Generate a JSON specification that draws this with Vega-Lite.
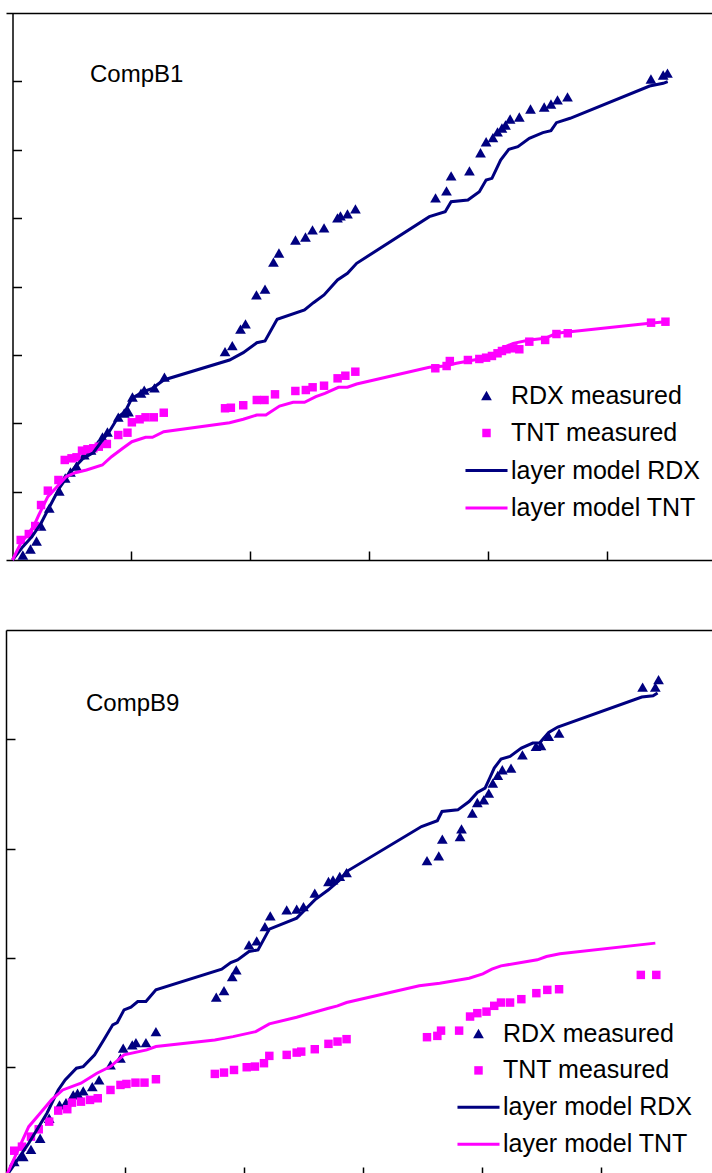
{
  "$schema": "https://vega.github.io/schema/vega-lite/v6.json",
  "padding": {"left": 4, "top": 13, "right": 0, "bottom": 0},
  "autosize": {"type": "pad"},
  "background": "white",
  "spacing": 70,
  "bounds": "flush",
  "config": {
    "view": {"stroke": null},
    "axis": {"labels": false, "title": null, "grid": false, "domainColor": "black", "domainWidth": 1.5, "tickColor": "black", "tickWidth": 1.5, "tickSize": -9},
    "legend": {"title": null, "orient": "none", "labelFont": "Liberation Sans", "labelFontSize": 25, "labelColor": "black", "labelLimit": 400, "labelOffset": 12, "symbolSize": 115, "symbolStrokeWidth": 3, "symbolOpacity": 1, "padding": 0}
  },
  "datasets": {
    "b1_rdx": [
      {"x":0.087,"y":0.073,"series":"RDX measured"},{"x":0.151,"y":0.161,"series":"RDX measured"},{"x":0.202,"y":0.278,"series":"RDX measured"},{"x":0.240,"y":0.497,"series":"RDX measured"},{"x":0.309,"y":0.76,"series":"RDX measured"},{"x":0.393,"y":1.009,"series":"RDX measured"},{"x":0.443,"y":1.199,"series":"RDX measured"},{"x":0.487,"y":1.287,"series":"RDX measured"},{"x":0.538,"y":1.375,"series":"RDX measured"},{"x":0.603,"y":1.536,"series":"RDX measured"},{"x":0.660,"y":1.609,"series":"RDX measured"},{"x":0.714,"y":1.682,"series":"RDX measured"},{"x":0.756,"y":1.799,"series":"RDX measured"},{"x":0.798,"y":1.872,"series":"RDX measured"},{"x":0.889,"y":2.091,"series":"RDX measured"},{"x":0.939,"y":2.150,"series":"RDX measured"},{"x":0.975,"y":2.165,"series":"RDX measured"},{"x":1.008,"y":2.384,"series":"RDX measured"},{"x":1.080,"y":2.442,"series":"RDX measured"},{"x":1.107,"y":2.486,"series":"RDX measured"},{"x":1.193,"y":2.516,"series":"RDX measured"},{"x":1.277,"y":2.676,"series":"RDX measured"},{"x":1.786,"y":3.046,"series":"RDX measured"},{"x":1.847,"y":3.134,"series":"RDX measured"},{"x":1.916,"y":3.378,"series":"RDX measured"},{"x":1.958,"y":3.452,"series":"RDX measured"},{"x":2.050,"y":3.876,"series":"RDX measured"},{"x":2.122,"y":3.963,"series":"RDX measured"},{"x":2.193,"y":4.358,"series":"RDX measured"},{"x":2.239,"y":4.490,"series":"RDX measured"},{"x":2.378,"y":4.680,"series":"RDX measured"},{"x":2.462,"y":4.724,"series":"RDX measured"},{"x":2.521,"y":4.827,"series":"RDX measured"},{"x":2.618,"y":4.856,"series":"RDX measured"},{"x":2.731,"y":5.003,"series":"RDX measured"},{"x":2.756,"y":5.032,"series":"RDX measured"},{"x":2.815,"y":5.061,"series":"RDX measured"},{"x":2.882,"y":5.134,"series":"RDX measured"},{"x":3.555,"y":5.297,"series":"RDX measured"},{"x":3.647,"y":5.399,"series":"RDX measured"},{"x":3.686,"y":5.619,"series":"RDX measured"},{"x":3.840,"y":5.692,"series":"RDX measured"},{"x":3.933,"y":5.956,"series":"RDX measured"},{"x":3.980,"y":6.117,"series":"RDX measured"},{"x":4.037,"y":6.176,"series":"RDX measured"},{"x":4.076,"y":6.260,"series":"RDX measured"},{"x":4.113,"y":6.318,"series":"RDX measured"},{"x":4.143,"y":6.362,"series":"RDX measured"},{"x":4.182,"y":6.450,"series":"RDX measured"},{"x":4.259,"y":6.479,"series":"RDX measured"},{"x":4.353,"y":6.596,"series":"RDX measured"},{"x":4.468,"y":6.625,"series":"RDX measured"},{"x":4.525,"y":6.669,"series":"RDX measured"},{"x":4.580,"y":6.728,"series":"RDX measured"},{"x":4.664,"y":6.772,"series":"RDX measured"},{"x":5.365,"y":7.035,"series":"RDX measured"},{"x":5.468,"y":7.093,"series":"RDX measured"},{"x":5.504,"y":7.122,"series":"RDX measured"}
    ],
    "b1_tnt": [
      {"x":0.069,"y":0.293,"series":"TNT measured"},{"x":0.137,"y":0.380,"series":"TNT measured"},{"x":0.191,"y":0.497,"series":"TNT measured"},{"x":0.240,"y":0.804,"series":"TNT measured"},{"x":0.297,"y":1.014,"series":"TNT measured"},{"x":0.386,"y":1.170,"series":"TNT measured"},{"x":0.439,"y":1.463,"series":"TNT measured"},{"x":0.496,"y":1.487,"series":"TNT measured"},{"x":0.538,"y":1.502,"series":"TNT measured"},{"x":0.584,"y":1.599,"series":"TNT measured"},{"x":0.630,"y":1.619,"series":"TNT measured"},{"x":0.679,"y":1.634,"series":"TNT measured"},{"x":0.725,"y":1.657,"series":"TNT measured"},{"x":0.793,"y":1.697,"series":"TNT measured"},{"x":0.889,"y":1.828,"series":"TNT measured"},{"x":0.966,"y":1.862,"series":"TNT measured"},{"x":1.003,"y":2.014,"series":"TNT measured"},{"x":1.068,"y":2.058,"series":"TNT measured"},{"x":1.118,"y":2.087,"series":"TNT measured"},{"x":1.187,"y":2.087,"series":"TNT measured"},{"x":1.271,"y":2.154,"series":"TNT measured"},{"x":1.786,"y":2.219,"series":"TNT measured"},{"x":1.835,"y":2.227,"series":"TNT measured"},{"x":1.939,"y":2.263,"series":"TNT measured"},{"x":2.053,"y":2.340,"series":"TNT measured"},{"x":2.118,"y":2.340,"series":"TNT measured"},{"x":2.206,"y":2.423,"series":"TNT measured"},{"x":2.377,"y":2.472,"series":"TNT measured"},{"x":2.465,"y":2.486,"series":"TNT measured"},{"x":2.522,"y":2.526,"series":"TNT measured"},{"x":2.618,"y":2.549,"series":"TNT measured"},{"x":2.732,"y":2.657,"series":"TNT measured"},{"x":2.797,"y":2.695,"series":"TNT measured"},{"x":2.881,"y":2.754,"series":"TNT measured"},{"x":3.553,"y":2.804,"series":"TNT measured"},{"x":3.648,"y":2.837,"series":"TNT measured"},{"x":3.675,"y":2.910,"series":"TNT measured"},{"x":3.827,"y":2.925,"series":"TNT measured"},{"x":3.923,"y":2.940,"series":"TNT measured"},{"x":3.980,"y":2.959,"series":"TNT measured"},{"x":4.029,"y":2.984,"series":"TNT measured"},{"x":4.076,"y":3.023,"series":"TNT measured"},{"x":4.113,"y":3.057,"series":"TNT measured"},{"x":4.151,"y":3.082,"series":"TNT measured"},{"x":4.208,"y":3.096,"series":"TNT measured"},{"x":4.259,"y":3.082,"series":"TNT measured"},{"x":4.343,"y":3.193,"series":"TNT measured"},{"x":4.476,"y":3.218,"series":"TNT measured"},{"x":4.571,"y":3.305,"series":"TNT measured"},{"x":4.666,"y":3.316,"series":"TNT measured"},{"x":5.366,"y":3.471,"series":"TNT measured"},{"x":5.487,"y":3.485,"series":"TNT measured"}
    ],
    "b1_model": [
      {"x":0,"y":0,"series":"layer model RDX"},{"x":0.087,"y":0.195,"series":"layer model RDX"},{"x":0.164,"y":0.341,"series":"layer model RDX"},{"x":0.240,"y":0.537,"series":"layer model RDX"},{"x":0.297,"y":0.731,"series":"layer model RDX"},{"x":0.393,"y":1.049,"series":"layer model RDX"},{"x":0.450,"y":1.195,"series":"layer model RDX"},{"x":0.527,"y":1.365,"series":"layer model RDX"},{"x":0.595,"y":1.487,"series":"layer model RDX"},{"x":0.679,"y":1.569,"series":"layer model RDX"},{"x":0.736,"y":1.707,"series":"layer model RDX"},{"x":0.813,"y":1.876,"series":"layer model RDX"},{"x":0.889,"y":2.096,"series":"layer model RDX"},{"x":0.946,"y":2.169,"series":"layer model RDX"},{"x":1.003,"y":2.365,"series":"layer model RDX"},{"x":1.099,"y":2.461,"series":"layer model RDX"},{"x":1.176,"y":2.511,"series":"layer model RDX"},{"x":1.271,"y":2.633,"series":"layer model RDX"},{"x":1.824,"y":2.925,"series":"layer model RDX"},{"x":1.939,"y":3.032,"series":"layer model RDX"},{"x":2.053,"y":3.178,"series":"layer model RDX"},{"x":2.122,"y":3.203,"series":"layer model RDX"},{"x":2.224,"y":3.520,"series":"layer model RDX"},{"x":2.454,"y":3.656,"series":"layer model RDX"},{"x":2.529,"y":3.763,"series":"layer model RDX"},{"x":2.618,"y":3.876,"series":"layer model RDX"},{"x":2.731,"y":4.095,"series":"layer model RDX"},{"x":2.815,"y":4.193,"series":"layer model RDX"},{"x":2.892,"y":4.339,"series":"layer model RDX"},{"x":3.503,"y":5.021,"series":"layer model RDX"},{"x":3.636,"y":5.094,"series":"layer model RDX"},{"x":3.686,"y":5.240,"series":"layer model RDX"},{"x":3.827,"y":5.265,"series":"layer model RDX"},{"x":3.923,"y":5.386,"series":"layer model RDX"},{"x":3.980,"y":5.558,"series":"layer model RDX"},{"x":4.029,"y":5.582,"series":"layer model RDX"},{"x":4.102,"y":5.850,"series":"layer model RDX"},{"x":4.171,"y":6.007,"series":"layer model RDX"},{"x":4.247,"y":6.045,"series":"layer model RDX"},{"x":4.343,"y":6.168,"series":"layer model RDX"},{"x":4.457,"y":6.250,"series":"layer model RDX"},{"x":4.525,"y":6.279,"series":"layer model RDX"},{"x":4.571,"y":6.396,"series":"layer model RDX"},{"x":4.686,"y":6.460,"series":"layer model RDX"},{"x":5.354,"y":6.932,"series":"layer model RDX"},{"x":5.468,"y":6.972,"series":"layer model RDX"},{"x":5.506,"y":6.996,"series":"layer model RDX"},
      {"x":0,"y":0,"series":"layer model TNT"},{"x":0.069,"y":0.244,"series":"layer model TNT"},{"x":0.126,"y":0.366,"series":"layer model TNT"},{"x":0.183,"y":0.512,"series":"layer model TNT"},{"x":0.221,"y":0.658,"series":"layer model TNT"},{"x":0.297,"y":0.926,"series":"layer model TNT"},{"x":0.374,"y":1.072,"series":"layer model TNT"},{"x":0.450,"y":1.218,"series":"layer model TNT"},{"x":0.527,"y":1.277,"series":"layer model TNT"},{"x":0.622,"y":1.316,"series":"layer model TNT"},{"x":0.755,"y":1.389,"series":"layer model TNT"},{"x":0.832,"y":1.511,"series":"layer model TNT"},{"x":0.927,"y":1.634,"series":"layer model TNT"},{"x":1.003,"y":1.730,"series":"layer model TNT"},{"x":1.118,"y":1.795,"series":"layer model TNT"},{"x":1.176,"y":1.795,"series":"layer model TNT"},{"x":1.271,"y":1.876,"series":"layer model TNT"},{"x":1.824,"y":2.008,"series":"layer model TNT"},{"x":1.939,"y":2.058,"series":"layer model TNT"},{"x":2.053,"y":2.121,"series":"layer model TNT"},{"x":2.129,"y":2.121,"series":"layer model TNT"},{"x":2.244,"y":2.252,"series":"layer model TNT"},{"x":2.358,"y":2.306,"series":"layer model TNT"},{"x":2.454,"y":2.306,"series":"layer model TNT"},{"x":2.549,"y":2.388,"series":"layer model TNT"},{"x":2.625,"y":2.438,"series":"layer model TNT"},{"x":2.739,"y":2.526,"series":"layer model TNT"},{"x":2.815,"y":2.526,"series":"layer model TNT"},{"x":2.892,"y":2.574,"series":"layer model TNT"},{"x":3.503,"y":2.818,"series":"layer model TNT"},{"x":3.636,"y":2.837,"series":"layer model TNT"},{"x":3.731,"y":2.877,"series":"layer model TNT"},{"x":3.923,"y":2.940,"series":"layer model TNT"},{"x":4.018,"y":2.965,"series":"layer model TNT"},{"x":4.113,"y":3.096,"series":"layer model TNT"},{"x":4.208,"y":3.169,"series":"layer model TNT"},{"x":4.343,"y":3.218,"series":"layer model TNT"},{"x":4.476,"y":3.242,"series":"layer model TNT"},{"x":4.571,"y":3.316,"series":"layer model TNT"},{"x":4.686,"y":3.339,"series":"layer model TNT"},{"x":5.354,"y":3.462,"series":"layer model TNT"},{"x":5.487,"y":3.485,"series":"layer model TNT"}
    ],
    "b9_rdx": [
      {"x":0.069,"y":0.134,"series":"RDX measured"},{"x":0.145,"y":0.179,"series":"RDX measured"},{"x":0.210,"y":0.247,"series":"RDX measured"},{"x":0.287,"y":0.348,"series":"RDX measured"},{"x":0.363,"y":0.531,"series":"RDX measured"},{"x":0.450,"y":0.653,"series":"RDX measured"},{"x":0.504,"y":0.674,"series":"RDX measured"},{"x":0.565,"y":0.745,"series":"RDX measured"},{"x":0.601,"y":0.760,"series":"RDX measured"},{"x":0.649,"y":0.781,"series":"RDX measured"},{"x":0.725,"y":0.821,"series":"RDX measured"},{"x":0.782,"y":0.882,"series":"RDX measured"},{"x":0.878,"y":1.019,"series":"RDX measured"},{"x":0.962,"y":1.081,"series":"RDX measured"},{"x":0.985,"y":1.172,"series":"RDX measured"},{"x":1.061,"y":1.202,"series":"RDX measured"},{"x":1.092,"y":1.223,"series":"RDX measured"},{"x":1.176,"y":1.223,"series":"RDX measured"},{"x":1.260,"y":1.324,"series":"RDX measured"},{"x":1.767,"y":1.639,"series":"RDX measured"},{"x":1.832,"y":1.700,"series":"RDX measured"},{"x":1.901,"y":1.828,"series":"RDX measured"},{"x":1.935,"y":1.889,"series":"RDX measured"},{"x":2.042,"y":2.118,"series":"RDX measured"},{"x":2.107,"y":2.155,"series":"RDX measured"},{"x":2.176,"y":2.286,"series":"RDX measured"},{"x":2.221,"y":2.384,"series":"RDX measured"},{"x":2.359,"y":2.439,"series":"RDX measured"},{"x":2.443,"y":2.445,"series":"RDX measured"},{"x":2.500,"y":2.469,"series":"RDX measured"},{"x":2.595,"y":2.592,"series":"RDX measured"},{"x":2.710,"y":2.698,"series":"RDX measured"},{"x":2.748,"y":2.713,"series":"RDX measured"},{"x":2.805,"y":2.744,"series":"RDX measured"},{"x":2.862,"y":2.780,"series":"RDX measured"},{"x":3.538,"y":2.890,"series":"RDX measured"},{"x":3.637,"y":2.933,"series":"RDX measured"},{"x":3.667,"y":3.086,"series":"RDX measured"},{"x":3.816,"y":3.110,"series":"RDX measured"},{"x":3.828,"y":3.180,"series":"RDX measured"},{"x":3.919,"y":3.324,"series":"RDX measured"},{"x":3.961,"y":3.421,"series":"RDX measured"},{"x":4.015,"y":3.446,"series":"RDX measured"},{"x":4.057,"y":3.507,"series":"RDX measured"},{"x":4.091,"y":3.599,"series":"RDX measured"},{"x":4.133,"y":3.669,"series":"RDX measured"},{"x":4.171,"y":3.721,"series":"RDX measured"},{"x":4.244,"y":3.736,"series":"RDX measured"},{"x":4.340,"y":3.858,"series":"RDX measured"},{"x":4.454,"y":3.934,"series":"RDX measured"},{"x":4.496,"y":3.943,"series":"RDX measured"},{"x":4.561,"y":4.026,"series":"RDX measured"},{"x":4.648,"y":4.057,"series":"RDX measured"},{"x":5.350,"y":4.478,"series":"RDX measured"},{"x":5.457,"y":4.478,"series":"RDX measured"},{"x":5.484,"y":4.545,"series":"RDX measured"}
    ],
    "b9_tnt": [
      {"x":0.069,"y":0.234,"series":"TNT measured"},{"x":0.134,"y":0.271,"series":"TNT measured"},{"x":0.210,"y":0.363,"series":"TNT measured"},{"x":0.275,"y":0.430,"series":"TNT measured"},{"x":0.363,"y":0.500,"series":"TNT measured"},{"x":0.439,"y":0.601,"series":"TNT measured"},{"x":0.515,"y":0.614,"series":"TNT measured"},{"x":0.554,"y":0.674,"series":"TNT measured"},{"x":0.630,"y":0.683,"series":"TNT measured"},{"x":0.706,"y":0.699,"series":"TNT measured"},{"x":0.771,"y":0.714,"series":"TNT measured"},{"x":0.878,"y":0.790,"series":"TNT measured"},{"x":0.962,"y":0.836,"series":"TNT measured"},{"x":1.012,"y":0.845,"series":"TNT measured"},{"x":1.088,"y":0.857,"series":"TNT measured"},{"x":1.164,"y":0.857,"series":"TNT measured"},{"x":1.260,"y":0.888,"series":"TNT measured"},{"x":1.755,"y":0.937,"series":"TNT measured"},{"x":1.832,"y":0.949,"series":"TNT measured"},{"x":1.916,"y":0.973,"series":"TNT measured"},{"x":2.023,"y":0.998,"series":"TNT measured"},{"x":2.092,"y":1.004,"series":"TNT measured"},{"x":2.168,"y":1.035,"series":"TNT measured"},{"x":2.213,"y":1.102,"series":"TNT measured"},{"x":2.359,"y":1.111,"series":"TNT measured"},{"x":2.443,"y":1.132,"series":"TNT measured"},{"x":2.481,"y":1.141,"series":"TNT measured"},{"x":2.595,"y":1.163,"series":"TNT measured"},{"x":2.710,"y":1.212,"series":"TNT measured"},{"x":2.786,"y":1.233,"series":"TNT measured"},{"x":2.862,"y":1.255,"series":"TNT measured"},{"x":3.538,"y":1.273,"series":"TNT measured"},{"x":3.625,"y":1.285,"series":"TNT measured"},{"x":3.656,"y":1.333,"series":"TNT measured"},{"x":3.808,"y":1.333,"series":"TNT measured"},{"x":3.900,"y":1.462,"series":"TNT measured"},{"x":3.961,"y":1.493,"series":"TNT measured"},{"x":4.038,"y":1.507,"series":"TNT measured"},{"x":4.103,"y":1.560,"series":"TNT measured"},{"x":4.160,"y":1.590,"series":"TNT measured"},{"x":4.236,"y":1.590,"series":"TNT measured"},{"x":4.331,"y":1.621,"series":"TNT measured"},{"x":4.457,"y":1.676,"series":"TNT measured"},{"x":4.549,"y":1.706,"series":"TNT measured"},{"x":4.648,"y":1.712,"series":"TNT measured"},{"x":5.335,"y":1.843,"series":"TNT measured"},{"x":5.465,"y":1.843,"series":"TNT measured"}
    ],
    "b9_model": [
      {"x":0,"y":0,"series":"layer model RDX"},{"x":0.039,"y":0.058,"series":"layer model RDX"},{"x":0.191,"y":0.302,"series":"layer model RDX"},{"x":0.344,"y":0.577,"series":"layer model RDX"},{"x":0.439,"y":0.790,"series":"layer model RDX"},{"x":0.497,"y":0.882,"series":"layer model RDX"},{"x":0.592,"y":0.989,"series":"layer model RDX"},{"x":0.649,"y":1.004,"series":"layer model RDX"},{"x":0.745,"y":1.111,"series":"layer model RDX"},{"x":0.821,"y":1.248,"series":"layer model RDX"},{"x":0.897,"y":1.386,"series":"layer model RDX"},{"x":0.935,"y":1.407,"series":"layer model RDX"},{"x":0.992,"y":1.523,"series":"layer model RDX"},{"x":1.050,"y":1.548,"series":"layer model RDX"},{"x":1.107,"y":1.599,"series":"layer model RDX"},{"x":1.176,"y":1.599,"series":"layer model RDX"},{"x":1.260,"y":1.706,"series":"layer model RDX"},{"x":1.813,"y":1.896,"series":"layer model RDX"},{"x":1.889,"y":1.956,"series":"layer model RDX"},{"x":1.946,"y":1.981,"series":"layer model RDX"},{"x":2.042,"y":2.057,"series":"layer model RDX"},{"x":2.118,"y":2.072,"series":"layer model RDX"},{"x":2.213,"y":2.262,"series":"layer model RDX"},{"x":2.443,"y":2.363,"series":"layer model RDX"},{"x":2.595,"y":2.530,"series":"layer model RDX"},{"x":2.710,"y":2.622,"series":"layer model RDX"},{"x":2.805,"y":2.713,"series":"layer model RDX"},{"x":2.862,"y":2.789,"series":"layer model RDX"},{"x":3.492,"y":3.201,"series":"layer model RDX"},{"x":3.625,"y":3.254,"series":"layer model RDX"},{"x":3.664,"y":3.339,"series":"layer model RDX"},{"x":3.797,"y":3.354,"series":"layer model RDX"},{"x":3.892,"y":3.430,"series":"layer model RDX"},{"x":3.961,"y":3.513,"series":"layer model RDX"},{"x":4.026,"y":3.553,"series":"layer model RDX"},{"x":4.065,"y":3.645,"series":"layer model RDX"},{"x":4.103,"y":3.736,"series":"layer model RDX"},{"x":4.160,"y":3.819,"series":"layer model RDX"},{"x":4.236,"y":3.843,"series":"layer model RDX"},{"x":4.331,"y":3.919,"series":"layer model RDX"},{"x":4.427,"y":3.965,"series":"layer model RDX"},{"x":4.484,"y":3.965,"series":"layer model RDX"},{"x":4.561,"y":4.062,"series":"layer model RDX"},{"x":4.637,"y":4.112,"series":"layer model RDX"},{"x":5.343,"y":4.386,"series":"layer model RDX"},{"x":5.438,"y":4.398,"series":"layer model RDX"},{"x":5.476,"y":4.423,"series":"layer model RDX"},
      {"x":0,"y":0,"series":"layer model TNT"},{"x":0.076,"y":0.179,"series":"layer model TNT"},{"x":0.191,"y":0.454,"series":"layer model TNT"},{"x":0.287,"y":0.577,"series":"layer model TNT"},{"x":0.382,"y":0.699,"series":"layer model TNT"},{"x":0.477,"y":0.790,"series":"layer model TNT"},{"x":0.630,"y":0.852,"series":"layer model TNT"},{"x":0.764,"y":0.943,"series":"layer model TNT"},{"x":0.878,"y":1.004,"series":"layer model TNT"},{"x":0.992,"y":1.111,"series":"layer model TNT"},{"x":1.183,"y":1.157,"series":"layer model TNT"},{"x":1.260,"y":1.187,"series":"layer model TNT"},{"x":1.755,"y":1.248,"series":"layer model TNT"},{"x":1.908,"y":1.278,"series":"layer model TNT"},{"x":2.099,"y":1.324,"series":"layer model TNT"},{"x":2.213,"y":1.395,"series":"layer model TNT"},{"x":2.443,"y":1.456,"series":"layer model TNT"},{"x":2.710,"y":1.538,"series":"layer model TNT"},{"x":2.786,"y":1.560,"series":"layer model TNT"},{"x":2.862,"y":1.590,"series":"layer model TNT"},{"x":3.473,"y":1.743,"series":"layer model TNT"},{"x":3.645,"y":1.767,"series":"layer model TNT"},{"x":3.892,"y":1.813,"series":"layer model TNT"},{"x":4.007,"y":1.853,"series":"layer model TNT"},{"x":4.083,"y":1.896,"series":"layer model TNT"},{"x":4.160,"y":1.926,"series":"layer model TNT"},{"x":4.465,"y":1.981,"series":"layer model TNT"},{"x":4.542,"y":2.011,"series":"layer model TNT"},{"x":4.655,"y":2.036,"series":"layer model TNT"},{"x":5.457,"y":2.134,"series":"layer model TNT"}
    ]
  },
  "vconcat": [
    {
      "width": 708,
      "height": 547,
      "title": {"text": "CompB1", "anchor": "start", "frame": "group", "orient": "top", "offset": -93, "dx": 84, "baseline": "alphabetic", "font": "Liberation Sans", "fontSize": 24, "fontWeight": "normal", "color": "black"},
      "layer": [
        {
          "data": {"name": "b1_rdx"},
          "mark": {"type": "point", "size": 115, "filled": true, "opacity": 1},
          "encoding": {
            "x": {"field": "x", "type": "quantitative", "scale": {"domain": [-0.0546, 5.895], "nice": false, "zero": false}, "axis": {"orient": "top", "ticks": false, "labels": false, "domain": true}},
            "y": {"field": "y", "type": "quantitative", "scale": {"domain": [0, 8], "nice": false, "zero": false}, "axis": {"values": [1, 2, 3, 4, 5, 6, 7], "offset": -6.5}},
            "color": {"field": "series", "type": "nominal",
              "scale": {"domain": ["RDX measured", "TNT measured", "layer model RDX", "layer model TNT"], "range": ["#000080", "#FF00FF", "transparent", "transparent"]},
              "legend": {"legendX": 468, "legendY": 370, "rowPadding": 11.5}},
            "stroke": {"field": "series", "type": "nominal",
              "scale": {"domain": ["RDX measured", "TNT measured", "layer model RDX", "layer model TNT"], "range": ["transparent", "transparent", "#000080", "#FF00FF"]},
              "legend": {"legendX": 468, "legendY": 370, "rowPadding": 11.5}},
            "shape": {"field": "series", "type": "nominal",
              "scale": {"domain": ["RDX measured", "TNT measured", "layer model RDX", "layer model TNT"], "range": ["triangle-up", "M-0.79,-0.79H0.79V0.79H-0.79Z", "M-3.92,0H3.92", "M-3.92,0H3.92"]},
              "legend": {"legendX": 468, "legendY": 370, "rowPadding": 11.5}}
          }
        },
        {
          "data": {"name": "b1_tnt"},
          "mark": {"type": "point", "size": 115, "filled": true, "opacity": 1},
          "encoding": {
            "x": {"field": "x", "type": "quantitative", "axis": null},
            "y": {"field": "y", "type": "quantitative"},
            "color": {"field": "series", "type": "nominal"},
            "stroke": {"field": "series", "type": "nominal"},
            "shape": {"field": "series", "type": "nominal"}
          }
        },
        {
          "data": {"name": "b1_model"},
          "mark": {"type": "line", "strokeWidth": 3},
          "encoding": {
            "x": {"field": "x", "type": "quantitative", "axis": {"orient": "bottom", "values": [1, 2, 3, 4, 5]}},
            "y": {"field": "y", "type": "quantitative"},
            "stroke": {"field": "series", "type": "nominal"}
          }
        }
      ],
      "resolve": {"axis": {"x": "independent"}}
    },
    {
      "width": 708,
      "height": 543,
      "title": {"text": "CompB9", "anchor": "start", "frame": "group", "orient": "top", "offset": -105, "dx": 80, "baseline": "alphabetic", "font": "Liberation Sans", "fontSize": 24, "fontWeight": "normal", "color": "black"},
      "layer": [
        {
          "data": {"name": "b9_rdx"},
          "mark": {"type": "point", "size": 115, "filled": true, "opacity": 1},
          "encoding": {
            "x": {"field": "x", "type": "quantitative", "scale": {"domain": [0, 5.95], "nice": false, "zero": false}, "axis": {"orient": "top", "ticks": false, "labels": false, "domain": true}},
            "y": {"field": "y", "type": "quantitative", "scale": {"domain": [0.03, 5], "nice": false, "zero": false}, "axis": {"values": [1, 2, 3, 4]}},
            "color": {"field": "series", "type": "nominal",
              "scale": {"domain": ["RDX measured", "TNT measured", "layer model RDX", "layer model TNT"], "range": ["#000080", "#FF00FF", "transparent", "transparent"]},
              "legend": {"legendX": 460, "legendY": 391, "rowPadding": 10.9}},
            "stroke": {"field": "series", "type": "nominal",
              "scale": {"domain": ["RDX measured", "TNT measured", "layer model RDX", "layer model TNT"], "range": ["transparent", "transparent", "#000080", "#FF00FF"]},
              "legend": {"legendX": 460, "legendY": 391, "rowPadding": 10.9}},
            "shape": {"field": "series", "type": "nominal",
              "scale": {"domain": ["RDX measured", "TNT measured", "layer model RDX", "layer model TNT"], "range": ["triangle-up", "M-0.79,-0.79H0.79V0.79H-0.79Z", "M-3.92,0H3.92", "M-3.92,0H3.92"]},
              "legend": {"legendX": 460, "legendY": 391, "rowPadding": 10.9}}
          }
        },
        {
          "data": {"name": "b9_tnt"},
          "mark": {"type": "point", "size": 115, "filled": true, "opacity": 1},
          "encoding": {
            "x": {"field": "x", "type": "quantitative", "axis": null},
            "y": {"field": "y", "type": "quantitative"},
            "color": {"field": "series", "type": "nominal"},
            "stroke": {"field": "series", "type": "nominal"},
            "shape": {"field": "series", "type": "nominal"}
          }
        },
        {
          "data": {"name": "b9_model"},
          "mark": {"type": "line", "strokeWidth": 3, "clip": true},
          "encoding": {
            "x": {"field": "x", "type": "quantitative", "axis": {"orient": "bottom", "values": [1, 2, 3, 4, 5], "domain": false, "tickSize": -6}},
            "y": {"field": "y", "type": "quantitative"},
            "stroke": {"field": "series", "type": "nominal"}
          }
        }
      ],
      "resolve": {"axis": {"x": "independent"}}
    }
  ],
  "resolve": {"scale": {"color": "independent", "stroke": "independent", "shape": "independent"}, "legend": {"color": "independent", "stroke": "independent", "shape": "independent"}}
}
